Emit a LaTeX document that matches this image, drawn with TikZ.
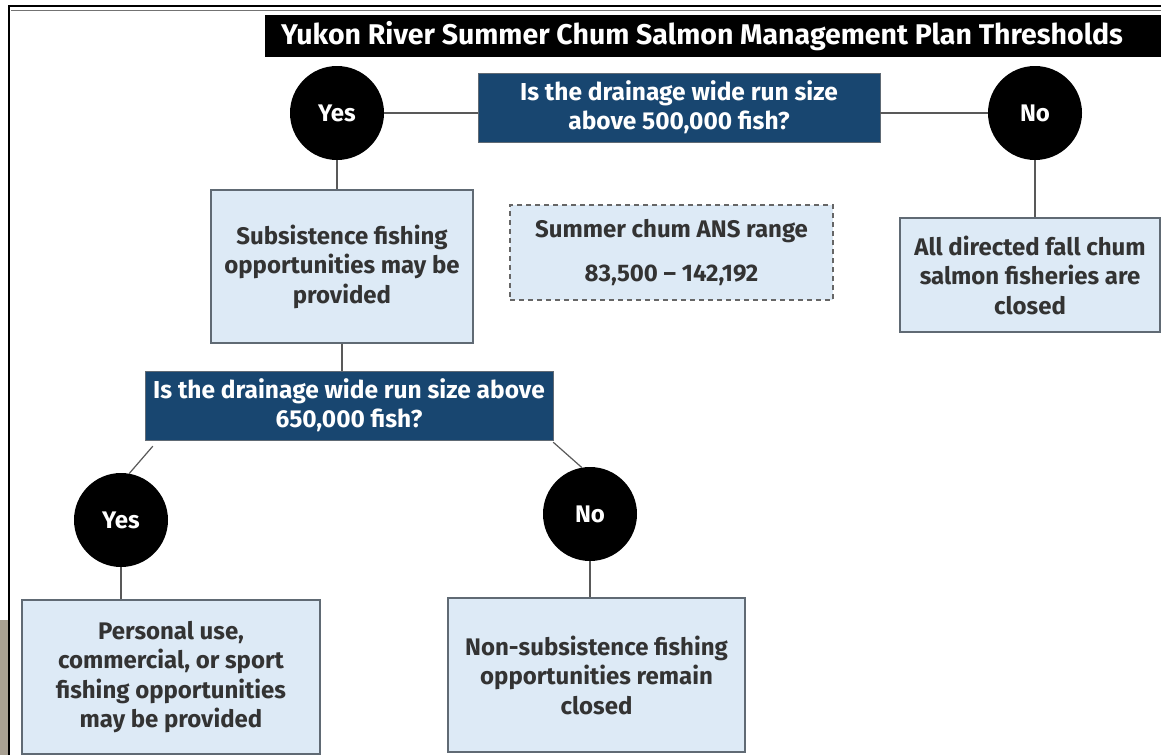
\documentclass[tikz,border=0pt]{standalone}
\usepackage{fontspec}
\setmainfont{Fira Sans}
\usetikzlibrary{shapes.geometric}
\definecolor{qblue}{RGB}{24,70,112}
\definecolor{boxblue}{RGB}{221,234,246}
\definecolor{edgegray}{RGB}{96,106,116}
\definecolor{photo}{RGB}{168,160,146}
\tikzset{
  titlebar/.style={fill=black, text=white, minimum width=896, minimum height=42, inner sep=0pt,
    font=\bfseries\fontsize{28.5}{30}\selectfont},
  question/.style={draw=edgegray, fill=qblue, text=white, align=center, inner sep=0pt,
    minimum height=69, font=\bfseries\fontsize{24.5}{29}\selectfont},
  answer/.style={circle, fill=black, text=white, minimum size=94, inner sep=0pt,
    font=\bfseries\fontsize{24}{28}\selectfont},
  outcome/.style={draw=edgegray, line width=1.2pt, fill=boxblue, text=black!80, align=center,
    inner sep=0pt, font=\bfseries\fontsize{24}{29.5}\selectfont},
  rangebox/.style={outcome, draw=black!60, dashed, dash pattern=on 5pt off 4pt},
  link/.style={draw=black!65, line width=1.2pt}
}
\begin{document}
\begin{tikzpicture}[x=1pt, y=-1pt]
  %%%%% START %%%%%
  \useasboundingbox (0,0) rectangle (1161,755);
  \fill[white] (0,0) rectangle (1161,755);
  \fill[photo] (0,620) rectangle (9,755);
  \draw[line width=1.6pt] (9,755) -- (9,6) -- (1161,6);
  \draw[black!55, line width=0.8pt] (11,10) -- (1161,10);

  \node[titlebar] (title) at (713,36) {Yukon River Summer Chum Salmon Management Plan Thresholds\hspace*{22pt}};

  \node[question, minimum width=402] (q1) at (679,107.5) {Is the drainage wide run size\\above 500,000 fish?};
  \node[answer] (yes1) at (337,113) {Yes};
  \node[answer] (no1) at (1035,113) {No};

  \node[outcome, minimum width=262, minimum height=153] (subs) at (342,266.5)
    {Subsistence fishing\\opportunities may be\\provided};
  \node[rangebox, minimum width=323, minimum height=95] (ans) at (671.5,252.5)
    {Summer chum ANS range\\[15pt]83,500 – 142,192};
  \node[outcome, minimum width=260, minimum height=114] (closed) at (1030,275)
    {All directed fall chum\\salmon fisheries are\\closed};

  \node[question, minimum width=408] (q2) at (349,405.5) {Is the drainage wide run size above\\650,000 fish?};
  \node[answer] (yes2) at (121,520) {Yes};
  \node[answer] (no2) at (590,514) {No};

  \node[outcome, minimum width=298, minimum height=154] (personal) at (171,677)
    {Personal use,\\commercial, or sport\\fishing opportunities\\may be provided};
  \node[outcome, minimum width=297, minimum height=154] (nonsub) at (596.5,675)
    {Non-subsistence fishing\\opportunities remain\\closed};

  \draw[link] (yes1.east) -- (yes1.east -| q1.west);
  \draw[link] (no1.west -| q1.east) -- (no1.west);
  \draw[link] (yes1.south) -- (yes1.south |- subs.north);
  \draw[link] (no1.south) -- (no1.south |- closed.north);
  \draw[link] (subs.south) -- (subs.south |- q2.north);
  \draw[link] ([xshift=8pt, yshift=-6pt]q2.south west) -- (yes2.80);
  \draw[link] ([yshift=-2pt]q2.south east) -- (no2.100);
  \draw[link] (yes2.south) -- (yes2.south |- personal.north);
  \draw[link] (no2.south) -- (no2.south |- nonsub.north);
  %%%%% END %%%%%
\end{tikzpicture}
\end{document}
